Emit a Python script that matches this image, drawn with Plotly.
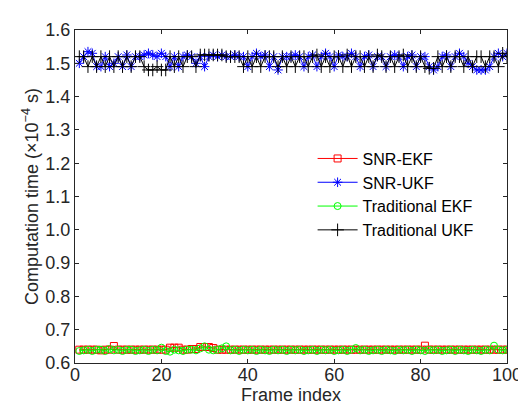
import plotly.graph_objects as go

frames = list(range(1, 101))

snr_ekf = [0.64, 0.64, 0.64, 0.64, 0.64, 0.638, 0.64, 0.64, 0.651, 0.64,
           0.64, 0.64, 0.64, 0.64, 0.64, 0.64, 0.64, 0.64, 0.64, 0.64,
           0.64, 0.646, 0.646, 0.646, 0.64, 0.64, 0.642, 0.642, 0.648, 0.648,
           0.648, 0.645, 0.64, 0.64, 0.64, 0.64, 0.64, 0.64, 0.64, 0.64,
           0.64, 0.64, 0.64, 0.64, 0.64, 0.64, 0.64, 0.64, 0.64, 0.64,
           0.64, 0.64, 0.64, 0.64, 0.64, 0.64, 0.64, 0.64, 0.64, 0.64,
           0.64, 0.64, 0.64, 0.64, 0.64, 0.64, 0.64, 0.64, 0.64, 0.64,
           0.64, 0.64, 0.64, 0.64, 0.64, 0.64, 0.64, 0.64, 0.64, 0.64,
           0.652, 0.64, 0.64, 0.64, 0.64, 0.64, 0.64, 0.64, 0.64, 0.64,
           0.64, 0.64, 0.64, 0.64, 0.64, 0.64, 0.64, 0.64, 0.64, 0.64]

snr_ukf = [1.50, 1.52, 1.535, 1.53, 1.49, 1.49, 1.52, 1.49, 1.50, 1.52,
           1.49, 1.525, 1.49, 1.52, 1.52, 1.525, 1.53, 1.525, 1.52, 1.53,
           1.52, 1.49, 1.52, 1.49, 1.52, 1.525, 1.52, 1.50, 1.52, 1.49,
           1.52, 1.525, 1.52, 1.525, 1.52, 1.52, 1.525, 1.52, 1.52, 1.49,
           1.52, 1.53, 1.52, 1.525, 1.49, 1.52, 1.48, 1.52, 1.52, 1.52,
           1.525, 1.52, 1.49, 1.52, 1.525, 1.49, 1.52, 1.53, 1.52, 1.49,
           1.525, 1.52, 1.52, 1.53, 1.52, 1.49, 1.52, 1.525, 1.49, 1.52,
           1.52, 1.49, 1.52, 1.525, 1.52, 1.49, 1.52, 1.525, 1.49, 1.52,
           1.52, 1.49, 1.48, 1.49, 1.52, 1.525, 1.49, 1.52, 1.53, 1.52,
           1.50, 1.49, 1.48, 1.48, 1.48, 1.49, 1.52, 1.53, 1.52, 1.53]

trad_ekf = [0.636, 0.638, 0.64, 0.636, 0.64, 0.64, 0.636, 0.642, 0.638, 0.64,
            0.636, 0.64, 0.64, 0.636, 0.638, 0.64, 0.636, 0.64, 0.638, 0.646,
            0.636, 0.634, 0.64, 0.638, 0.636, 0.64, 0.64, 0.638, 0.644, 0.65,
            0.64, 0.638, 0.64, 0.644, 0.65, 0.638, 0.64, 0.636, 0.64, 0.638,
            0.64, 0.636, 0.64, 0.638, 0.636, 0.64, 0.638, 0.64, 0.636, 0.64,
            0.638, 0.64, 0.636, 0.638, 0.64, 0.636, 0.64, 0.638, 0.64, 0.636,
            0.638, 0.64, 0.636, 0.64, 0.645, 0.638, 0.64, 0.636, 0.638, 0.64,
            0.636, 0.64, 0.638, 0.636, 0.64, 0.638, 0.64, 0.636, 0.64, 0.638,
            0.636, 0.64, 0.638, 0.64, 0.636, 0.638, 0.64, 0.636, 0.64, 0.638,
            0.636, 0.64, 0.638, 0.636, 0.64, 0.638, 0.652, 0.64, 0.638, 0.64]

trad_ukf = [1.52, 1.52, 1.49, 1.52, 1.49, 1.52, 1.49, 1.52, 1.49, 1.52,
            1.49, 1.52, 1.49, 1.52, 1.52, 1.49, 1.48, 1.48, 1.49, 1.48,
            1.48, 1.52, 1.49, 1.52, 1.49, 1.52, 1.52, 1.49, 1.525, 1.525,
            1.525, 1.525, 1.525, 1.525, 1.52, 1.52, 1.52, 1.52, 1.49, 1.52,
            1.49, 1.52, 1.49, 1.52, 1.52, 1.52, 1.49, 1.52, 1.49, 1.52,
            1.49, 1.52, 1.52, 1.49, 1.52, 1.525, 1.49, 1.52, 1.49, 1.52,
            1.52, 1.49, 1.525, 1.49, 1.52, 1.52, 1.49, 1.52, 1.49, 1.525,
            1.52, 1.49, 1.52, 1.49, 1.52, 1.525, 1.49, 1.52, 1.49, 1.52,
            1.49, 1.485, 1.485, 1.52, 1.49, 1.52, 1.49, 1.52, 1.52, 1.49,
            1.52, 1.49, 1.52, 1.52, 1.49, 1.52, 1.52, 1.49, 1.53, 1.52]

x_ticks = [0, 20, 40, 60, 80, 100]
y_ticks = [0.6, 0.7, 0.8, 0.9, 1.0, 1.1, 1.2, 1.3, 1.4, 1.5, 1.6]

FONT = "Liberation Sans, Arial"

fig = go.Figure()
series = [
    ("SNR-EKF", snr_ekf, "#ff0000", "square-open", 7),
    ("SNR-UKF", snr_ukf, "#0000ff", "asterisk-open", 8),
    ("Traditional EKF", trad_ekf, "#00ff00", "circle-open", 7),
    ("Traditional UKF", trad_ukf, "#000000", "cross-thin-open", 9),
]
for name, vals, col, sym, sz in series:
    fig.add_trace(go.Scatter(
        x=frames, y=vals, name=name, mode="lines+markers",
        line=dict(color=col, width=1),
        marker=dict(symbol=sym, size=sz, color=col, line=dict(color=col, width=1)),
    ))

axis_common = dict(
    showgrid=False, zeroline=False, showline=True, linecolor="#262626",
    linewidth=1, mirror="ticks", ticks="inside", ticklen=4, tickcolor="#262626",
    tickfont=dict(family=FONT, size=18, color="#262626"),
)
fig.update_xaxes(range=[0, 100], tickvals=x_ticks, ticktext=[str(t) for t in x_ticks],
                 ticklabelstandoff=-5,
                 title=dict(text="Frame index", font=dict(family=FONT, size=18, color="#262626"), standoff=0),
                 **axis_common)
fig.update_yaxes(range=[0.6, 1.6], tickvals=y_ticks, ticktext=[f"{t:.1f}" for t in y_ticks],
                 title=dict(text="Computation time (×10<sup>−4</sup> s)", font=dict(family=FONT, size=18, color="#262626"), standoff=2),
                 **axis_common)

fig.update_layout(
    width=526, height=407,
    margin=dict(l=67, r=17, t=18, b=52),
    paper_bgcolor="white", plot_bgcolor="white",
    showlegend=True,
    legend=dict(x=0.55, y=0.665, xanchor="left", yanchor="top",
                bgcolor="rgba(0,0,0,0)", borderwidth=0,
                font=dict(family=FONT, size=16, color="#000000"),
                itemwidth=40, tracegroupgap=0),
)

fig.write_html("out.html")
